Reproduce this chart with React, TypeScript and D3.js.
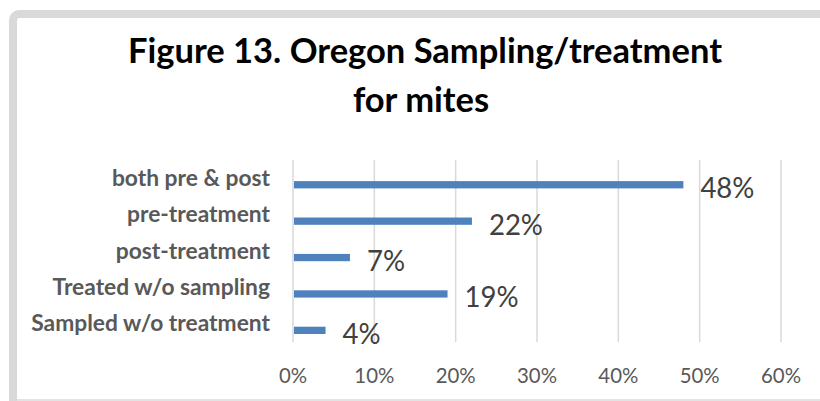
import React, { useEffect, useRef } from "react";
import * as d3 from "d3";

const categories = [
  "both pre & post",
  "pre-treatment",
  "post-treatment",
  "Treated w/o sampling",
  "Sampled w/o treatment",
];
const values = [48, 22, 7, 19, 4];
const tickValues = [0, 10, 20, 30, 40, 50, 60];
const titleLines = ["Figure 13. Oregon Sampling/treatment", "for mites"];

const W = 820;
const H = 401;
const FONT = "Lato, 'Open Sans', sans-serif";

function fitWidth(sel: d3.Selection<SVGTextElement, any, any, any>, target: number) {
  const node = sel.node();
  if (!node) return 0;
  const fs = parseFloat(sel.attr("font-size"));
  const w = node.getComputedTextLength();
  const nfs = (fs * target) / w;
  sel.attr("font-size", nfs);
  return nfs;
}

// condense text horizontally so that a reference string reaches a target width
function condense(
  svg: d3.Selection<SVGSVGElement, any, any, any>,
  sel: d3.Selection<SVGTextElement, any, any, any>,
  refText: string,
  fontSize: number,
  target: number
) {
  const probe = svg.append("text").attr("font-family", FONT).attr("font-size", fontSize).text(refText);
  const factor = target / (probe.node() as SVGTextElement).getComputedTextLength();
  probe.remove();
  sel.each(function () {
    const n = this as SVGTextElement;
    const w = n.getComputedTextLength();
    d3.select(n).attr("textLength", w * factor).attr("lengthAdjust", "spacingAndGlyphs");
  });
}

export default function App() {
  const ref = useRef<SVGSVGElement>(null);

  useEffect(() => {
    const svg = d3.select(ref.current) as d3.Selection<SVGSVGElement, any, any, any>;
    svg.selectAll("*").remove();

    // frame
    svg
      .append("rect")
      .attr("x", 13)
      .attr("y", 14)
      .attr("width", W + 50)
      .attr("height", H + 50)
      .attr("rx", 6)
      .attr("fill", "#ffffff")
      .attr("stroke", "#d9d9d9")
      .attr("stroke-width", 8);
    svg
      .append("rect")
      .attr("x", 17)
      .attr("y", 399)
      .attr("width", W)
      .attr("height", 2)
      .attr("fill", "#e3e3e3");

    // title
    const t1 = svg
      .append("text")
      .attr("x", 425)
      .attr("y", 63)
      .attr("text-anchor", "middle")
      .attr("font-family", FONT)
      .attr("font-weight", 700)
      .attr("font-size", 30)
      .attr("fill", "#000")
      .text(titleLines[0]);
    const tfs = fitWidth(t1, 594);
    svg
      .append("text")
      .attr("x", 421)
      .attr("y", 112)
      .attr("text-anchor", "middle")
      .attr("font-family", FONT)
      .attr("font-weight", 700)
      .attr("font-size", tfs)
      .attr("fill", "#000")
      .text(titleLines[1]);

    const x = d3.scaleLinear().domain([0, 60]).range([293, 781]);
    const y = d3.scaleBand<string>().domain(categories).range([160, 342]).padding(0);
    const bw = y.bandwidth();

    // gridlines
    svg
      .append("g")
      .selectAll("line")
      .data(tickValues)
      .join("line")
      .attr("x1", (d) => x(d))
      .attr("x2", (d) => x(d))
      .attr("y1", 160)
      .attr("y2", 342)
      .attr("stroke", "#d9d9d9")
      .attr("stroke-width", 1.5);

    // tick labels
    const tickFs = 21.5;
    const tl = svg
      .append("g")
      .selectAll("text")
      .data(tickValues)
      .join("text")
      .attr("x", (d) => x(d))
      .attr("y", 383)
      .attr("text-anchor", "middle")
      .attr("font-family", FONT)
      .attr("font-size", tickFs)
      .attr("fill", "#595959")
      .text((d) => `${d}%`);
    condense(svg, tl as any, "10%", tickFs, 40);

    // category labels
    const cl = svg
      .append("g")
      .selectAll("text")
      .data(categories)
      .join("text")
      .attr("x", 270)
      .attr("y", (d) => (y(d) as number) + bw / 2 - 1.5)
      .attr("dominant-baseline", "central")
      .attr("text-anchor", "end")
      .attr("font-family", FONT)
      .attr("font-weight", 700)
      .attr("font-size", 20)
      .attr("fill", "#595959")
      .text((d) => d);
    const longest = cl.filter((d) => d === "Sampled w/o treatment");
    const cfs = fitWidth(longest as any, 239);
    cl.attr("font-size", cfs);

    // bars
    const barTop = bw * 0.58;
    const barH = bw * 0.2;
    svg
      .append("g")
      .selectAll("rect")
      .data(values)
      .join("rect")
      .attr("x", x(0) + 1)
      .attr("y", (_, i) => (y(categories[i]) as number) + barTop)
      .attr("width", (d) => x(d) - x(0) - 1)
      .attr("height", barH)
      .attr("fill", "#4f81bd");

    // data labels
    const dfs = 28;
    const dl = svg
      .append("g")
      .selectAll("text")
      .data(values)
      .join("text")
      .attr("x", (d) => x(d) + 17)
      .attr("y", (_, i) => (y(categories[i]) as number) + barTop + barH / 2 + 2.5)
      .attr("dominant-baseline", "central")
      .attr("font-family", FONT)
      .attr("font-size", dfs)
      .attr("fill", "#404040")
      .text((d) => `${d}%`);
    condense(svg, dl as any, "22%", dfs, 54);
  }, []);

  return (
    <svg
      ref={ref}
      width={W}
      height={H}
      style={{ position: "absolute", left: 0, top: 0, display: "block" }}
    />
  );
}
